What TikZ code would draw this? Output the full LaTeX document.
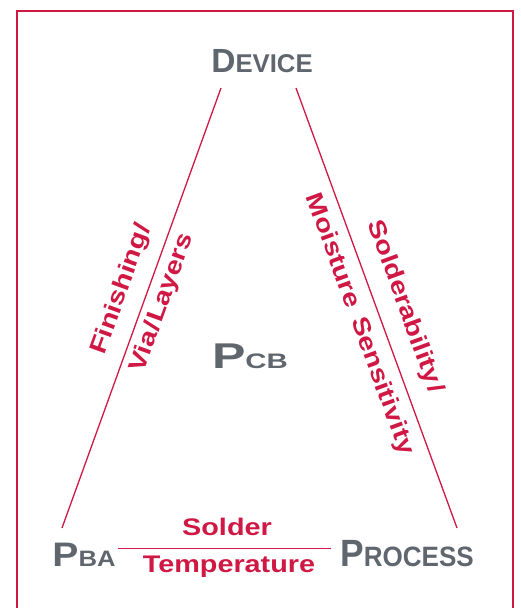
\documentclass[tikz,border=0pt]{standalone}
\usepackage{fontspec}
\setmainfont{Liberation Sans}
\newfontfamily\redfont[FakeStretch=1.2]{Liberation Sans}
\definecolor{crim}{RGB}{208,24,68}
\definecolor{slate}{RGB}{95,102,110}
\newcommand{\bigsmall}[4]{{\fontsize{#1}{#1}\selectfont #2}{\fontsize{#3}{#3}\selectfont #4}}
\newcommand{\slsh}{\kern1.2pt/\kern1.2pt}
\tikzset{
  title/.style={text=slate, font=\bfseries, inner sep=0pt, anchor=base},
  lab/.style={text=crim, font=\redfont\bfseries\fontsize{24}{28}\selectfont, inner sep=0pt},
  link/.style={draw=crim, line width=1.3pt},
  frame/.style={draw=crim, line width=2.6pt}
}
\begin{document}
\begin{tikzpicture}[x=1pt,y=-1pt]
\useasboundingbox (0,0) rectangle (521,608);
\draw[frame] (17,640) -- (17,11) -- (513,11) -- (513,640);

\node[title] (dev) at (262,72) {\bigsmall{33.5}{D}{25.7}{EVICE}};
\node[title] (pcb) at (250,368) {\scalebox{1.4}[1]{\bigsmall{35.8}{P}{21}{CB}}};
\node[title] (pba) at (84,566) {\scalebox{1.15}[1]{\bigsmall{34}{P}{22.3}{BA}}};
\node[title] (proc) at (407,566.5) {\scalebox{0.93}[1]{\bigsmall{38}{P}{28}{ROCESS}}};

\coordinate (dl) at (221,88);
\coordinate (pl) at (62,528);
\coordinate (dr) at (296,88);
\coordinate (pr) at (457,528);
\coordinate (bl) at (118,548.5);
\coordinate (br) at (331,548.5);

\draw[link] (pl) -- node[lab, sloped, above=13pt, pos=0.525] (fin) {Finishing\slsh}
                    node[lab, sloped, below=6pt, pos=0.525] (via) {Via\slsh Layers} (dl);
\draw[link] (dr) -- node[lab, sloped, above=15pt, pos=0.52] (sold) {Solderability\slsh}
                    node[lab, sloped, below=10pt, pos=0.52] (moist) {Moisture\kern4pt{} Sensitivity} (pr);
\draw[link] (bl) -- (br);
\node[lab, anchor=base] (sol) at (227,535) {Solder};
\node[lab, anchor=base] (tem) at (229,572) {Temperature};
\end{tikzpicture}
\end{document}
